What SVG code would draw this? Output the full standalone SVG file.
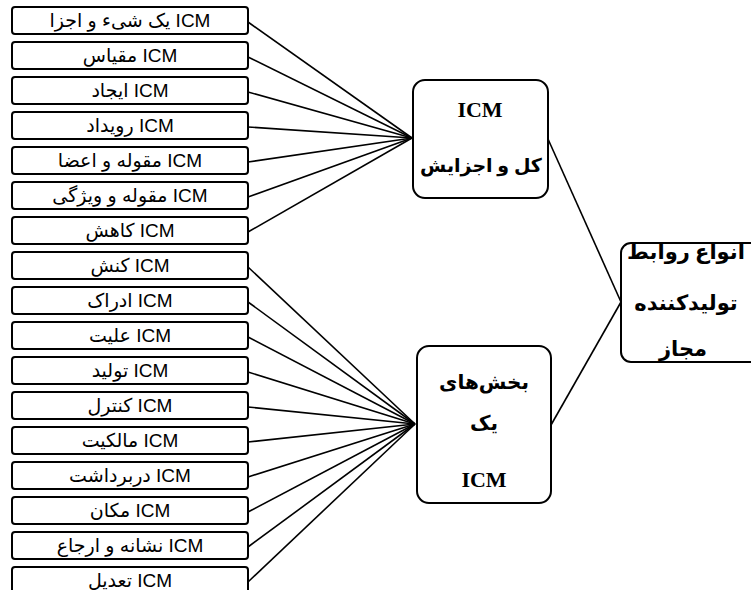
<svg xmlns="http://www.w3.org/2000/svg" width="751" height="590" viewBox="0 0 751 590">
<style>
.bx{fill:#fff;stroke:#000;stroke-width:2}
.lb{font-family:"Liberation Sans","DejaVu Sans",sans-serif;font-size:19px;fill:#000;text-anchor:middle}
.mb{font-family:"Liberation Serif","DejaVu Serif","DejaVu Sans",serif;font-weight:bold;font-size:22px;fill:#000;text-anchor:middle}
.fa{font-size:20px}
.fs{font-size:19px}
.fr{font-size:21px}
.cn{stroke:#000;stroke-width:1.6;fill:none}
</style>
<rect width="751" height="590" fill="#fff"/>
<g id="connectors">
<line class="cn" x1="248" y1="22" x2="412" y2="138"/>
<line class="cn" x1="248" y1="57" x2="412" y2="138"/>
<line class="cn" x1="248" y1="92" x2="412" y2="138"/>
<line class="cn" x1="248" y1="127" x2="412" y2="138"/>
<line class="cn" x1="248" y1="162" x2="412" y2="138"/>
<line class="cn" x1="248" y1="197" x2="412" y2="138"/>
<line class="cn" x1="248" y1="232" x2="412" y2="138"/>
<line class="cn" x1="248" y1="267" x2="415" y2="424"/>
<line class="cn" x1="248" y1="302" x2="415" y2="424"/>
<line class="cn" x1="248" y1="337" x2="415" y2="424"/>
<line class="cn" x1="248" y1="372" x2="415" y2="424"/>
<line class="cn" x1="248" y1="407" x2="415" y2="424"/>
<line class="cn" x1="248" y1="442" x2="415" y2="424"/>
<line class="cn" x1="248" y1="477" x2="415" y2="424"/>
<line class="cn" x1="248" y1="512" x2="415" y2="424"/>
<line class="cn" x1="248" y1="547" x2="415" y2="424"/>
<line class="cn" x1="248" y1="582" x2="415" y2="424"/>
<line class="cn" x1="548" y1="139" x2="621" y2="302"/>
<line class="cn" x1="551" y1="425" x2="621" y2="302"/>
</g>
<g id="n1"><rect class="bx" x="12" y="7" width="236" height="27" rx="3"/><text class="lb" x="130" y="27">یک شیء و اجزا ICM</text></g>
<g id="n2"><rect class="bx" x="12" y="42" width="236" height="27" rx="3"/><text class="lb" x="130" y="62">مقیاس ICM</text></g>
<g id="n3"><rect class="bx" x="12" y="77" width="236" height="27" rx="3"/><text class="lb" x="130" y="97">ایجاد ICM</text></g>
<g id="n4"><rect class="bx" x="12" y="112" width="236" height="27" rx="3"/><text class="lb" x="130" y="132">رویداد ICM</text></g>
<g id="n5"><rect class="bx" x="12" y="147" width="236" height="27" rx="3"/><text class="lb" x="130" y="167">مقوله و اعضا ICM</text></g>
<g id="n6"><rect class="bx" x="12" y="182" width="236" height="27" rx="3"/><text class="lb" x="130" y="202">مقوله و ویژگی ICM</text></g>
<g id="n7"><rect class="bx" x="12" y="217" width="236" height="27" rx="3"/><text class="lb" x="130" y="237">کاهش ICM</text></g>
<g id="n8"><rect class="bx" x="12" y="252" width="236" height="27" rx="3"/><text class="lb" x="130" y="272">کنش ICM</text></g>
<g id="n9"><rect class="bx" x="12" y="287" width="236" height="27" rx="3"/><text class="lb" x="130" y="307">ادراک ICM</text></g>
<g id="n10"><rect class="bx" x="12" y="322" width="236" height="27" rx="3"/><text class="lb" x="130" y="342">علیت ICM</text></g>
<g id="n11"><rect class="bx" x="12" y="357" width="236" height="27" rx="3"/><text class="lb" x="130" y="377">تولید ICM</text></g>
<g id="n12"><rect class="bx" x="12" y="392" width="236" height="27" rx="3"/><text class="lb" x="130" y="412">کنترل ICM</text></g>
<g id="n13"><rect class="bx" x="12" y="427" width="236" height="27" rx="3"/><text class="lb" x="130" y="447">مالکیت ICM</text></g>
<g id="n14"><rect class="bx" x="12" y="462" width="236" height="27" rx="3"/><text class="lb" x="130" y="482">دربرداشت ICM</text></g>
<g id="n15"><rect class="bx" x="12" y="497" width="236" height="27" rx="3"/><text class="lb" x="130" y="517">مکان ICM</text></g>
<g id="n16"><rect class="bx" x="12" y="532" width="236" height="27" rx="3"/><text class="lb" x="130" y="552">نشانه و ارجاع ICM</text></g>
<g id="n17"><rect class="bx" x="12" y="567" width="236" height="27" rx="3"/><text class="lb" x="130" y="587">تعدیل ICM</text></g>
<g id="whole"><rect class="bx" x="413" y="80" width="135" height="118" rx="12"/><text class="mb" x="480" y="117">ICM</text><text class="mb fs" x="481" y="172">کل و اجزایش</text></g>
<g id="parts"><rect class="bx" x="417" y="346" width="134" height="157" rx="12"/><text class="mb fa" x="484" y="389">بخش‌های</text><text class="mb fa" x="484" y="430">یک</text><text class="mb" x="484" y="487">ICM</text></g>
<g id="types"><rect class="bx" x="621" y="243" width="160" height="119" rx="10"/><text class="mb fr" x="686" y="259">انواع روابط</text><text class="mb fr" x="686" y="310">تولیدکننده</text><text class="mb fr" x="683" y="356">مجاز</text></g>
</svg>
